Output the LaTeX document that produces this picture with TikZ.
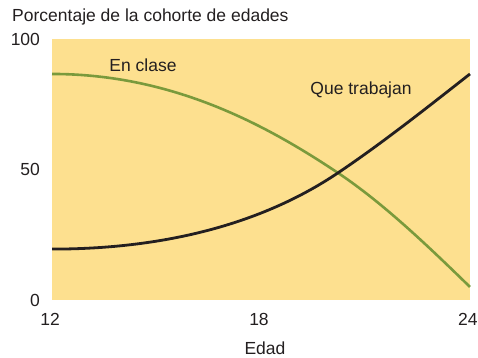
\documentclass[tikz,border=0pt]{standalone}
\usepackage{fontspec}
\setmainfont{Liberation Sans}
\definecolor{fondo}{HTML}{FDE08F}
\definecolor{verde}{HTML}{7A9A3C}
\definecolor{tinta}{HTML}{231F20}
\begin{document}
\begin{tikzpicture}[x=34.83pt,y=2.61pt,font=\fontsize{17.5}{20}\selectfont,text=tinta]
    \useasboundingbox (10.507,-22.22) rectangle (24.231,114.94);
    \fill[fondo] (12,0) rectangle (24,100);
    \foreach \x in {12,18,24}
    {
        \node (ex\x) at (\x,-7.3) [xshift=-2pt]{\x};
    }
    \foreach \y in {0,50,100}
    {
        \node (ey\y) at (11.66,\y) [anchor=east,inner sep=0pt]{\y};
    }
    \node (titulo) at (10.852,108.4) [anchor=west,inner sep=0pt]{Porcentaje de la cohorte de edades};
    \node (edad) at (18.115,-18.3){Edad};
% curvas
\draw[verde,line width=2.6pt] (12,86.6) .. controls (15.5,86.6) and (18.2,66.6) .. (20.21,48.7)
    .. controls (21.47,37.5) and (22.74,21.4) .. (24,5);
\draw[tinta,line width=2.8pt] (12,19.5) .. controls (16,19.5) and (18.6,34.2) .. (20.21,48.7)
    .. controls (21.47,60.0) and (22.74,73.4) .. (24,86.6);
\node (enclase) at (14.613,90.0){En clase};
\node (trabajan) at (20.872,80.5){Que trabajan};
\end{tikzpicture}
\end{document}
